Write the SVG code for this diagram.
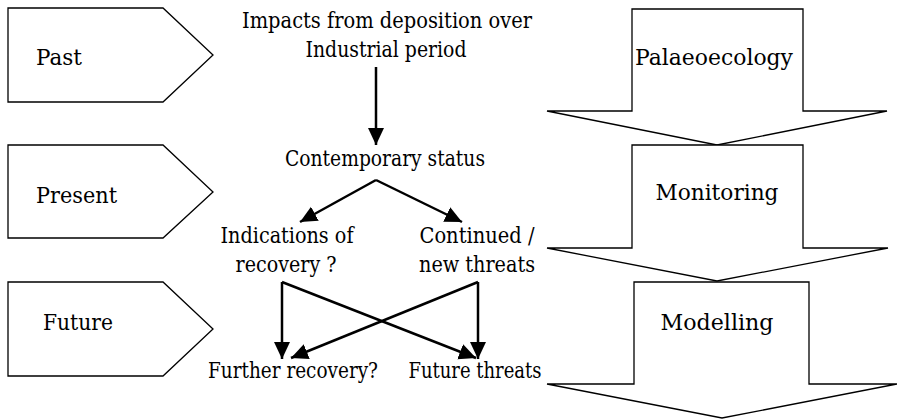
<svg xmlns="http://www.w3.org/2000/svg" width="897" height="419" viewBox="0 0 897 419">
<style>
text{font-family:'DejaVu Serif',serif;font-size:22px;fill:#000}
.m{text-anchor:middle}
.shape{fill:#fff;stroke:#000;stroke-width:1.3}
.conn{fill:none;stroke:#000;stroke-width:2.5}
</style>
<defs>
<marker id="ah" markerUnits="userSpaceOnUse" markerWidth="18" markerHeight="18" viewBox="0 0 18 18" refX="17" refY="9" orient="auto">
<path d="M0,1 L17,9 L0,17 Z" fill="#000"/>
</marker>
</defs>
<g id="past"><path class="shape" d="M8,8 H163 L213,55 L163,102 H8 Z"/><text x="36" y="65" textLength="46" lengthAdjust="spacingAndGlyphs">Past</text></g>
<g id="present"><path class="shape" d="M8,145 H163 L213,192 L163,238 H8 Z"/><text x="36" y="203" textLength="81" lengthAdjust="spacingAndGlyphs">Present</text></g>
<g id="future"><path class="shape" d="M8,282 H163 L213,329 L163,376 H8 Z"/><text x="43" y="330" textLength="70" lengthAdjust="spacingAndGlyphs">Future</text></g>
<g id="palaeoecology"><path class="shape" d="M632,9 H803 V111 H887 L717,145 L547,111 H632 Z"/><text class="m" x="714" y="65" textLength="158" lengthAdjust="spacingAndGlyphs">Palaeoecology</text></g>
<g id="monitoring"><path class="shape" d="M632,145 H803 V248 H888 L717,281 L547,248 H632 Z"/><text class="m" x="717" y="200" textLength="123" lengthAdjust="spacingAndGlyphs">Monitoring</text></g>
<g id="modelling"><path class="shape" d="M634,282 H809 V384 H897 L722,418 L547,384 H634 Z"/><text class="m" x="717" y="330" textLength="113" lengthAdjust="spacingAndGlyphs">Modelling</text></g>
<g id="impacts"><text class="m" x="387" y="28" textLength="290" lengthAdjust="spacingAndGlyphs">Impacts from deposition over</text><text class="m" x="386" y="57" textLength="161" lengthAdjust="spacingAndGlyphs">Industrial period</text></g>
<g id="contemporary"><text class="m" x="385" y="166" textLength="200" lengthAdjust="spacingAndGlyphs">Contemporary status</text></g>
<g id="indications"><text class="m" x="287" y="243" textLength="133" lengthAdjust="spacingAndGlyphs">Indications of</text><text class="m" x="286" y="272" textLength="101" lengthAdjust="spacingAndGlyphs">recovery ?</text></g>
<g id="continued"><text class="m" x="477" y="243" textLength="115" lengthAdjust="spacingAndGlyphs">Continued /</text><text class="m" x="477" y="272" textLength="116" lengthAdjust="spacingAndGlyphs">new threats</text></g>
<g id="further"><text class="m" x="293" y="378" textLength="170" lengthAdjust="spacingAndGlyphs">Further recovery?</text></g>
<g id="futurethreats"><text class="m" x="475" y="378" textLength="133" lengthAdjust="spacingAndGlyphs">Future threats</text></g>
<g id="connectors">
<line class="conn" x1="376" y1="67" x2="376" y2="145" marker-end="url(#ah)"/>
<line class="conn" x1="376" y1="180" x2="300" y2="222" marker-end="url(#ah)"/>
<line class="conn" x1="376" y1="180" x2="462" y2="222" marker-end="url(#ah)"/>
<line class="conn" x1="282" y1="282" x2="282" y2="359" marker-end="url(#ah)"/>
<line class="conn" x1="282" y1="282" x2="476" y2="358" marker-end="url(#ah)"/>
<line class="conn" x1="478" y1="282" x2="478" y2="359" marker-end="url(#ah)"/>
<line class="conn" x1="478" y1="282" x2="291" y2="358" marker-end="url(#ah)"/>
</g>
</svg>
